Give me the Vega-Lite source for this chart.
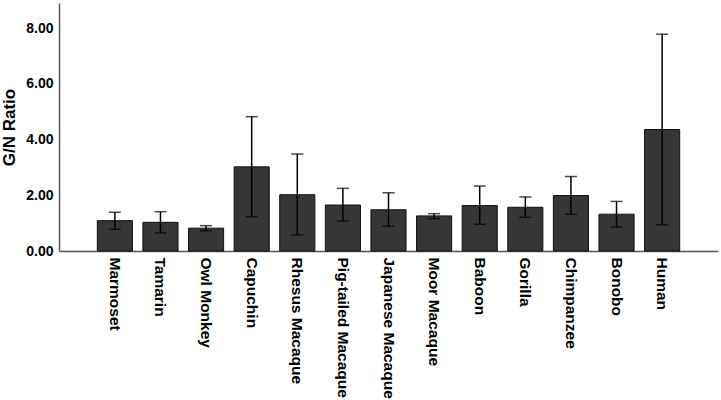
{
  "$schema": "https://vega.github.io/schema/vega-lite/v6.json",
  "width": 659,
  "height": 248,
  "autosize": {"type": "none"},
  "padding": {"left": 59, "top": 3, "right": 3, "bottom": 149},
  "background": "white",
  "config": {
    "view": {"stroke": null},
    "font": "Liberation Sans"
  },
  "data": {
    "values": [
      {"species": "Marmoset", "ratio": 1.09, "lo": 0.78, "hi": 1.39},
      {"species": "Tamarin", "ratio": 1.03, "lo": 0.65, "hi": 1.41},
      {"species": "Owl Monkey", "ratio": 0.82, "lo": 0.73, "hi": 0.91},
      {"species": "Capuchin", "ratio": 3.02, "lo": 1.23, "hi": 4.82},
      {"species": "Rhesus Macaque", "ratio": 2.02, "lo": 0.58, "hi": 3.48},
      {"species": "Pig-tailed Macaque", "ratio": 1.65, "lo": 1.07, "hi": 2.25},
      {"species": "Japanese Macaque", "ratio": 1.48, "lo": 0.89, "hi": 2.09},
      {"species": "Moor Macaque", "ratio": 1.26, "lo": 1.16, "hi": 1.34},
      {"species": "Baboon", "ratio": 1.63, "lo": 0.96, "hi": 2.33},
      {"species": "Gorilla", "ratio": 1.57, "lo": 1.21, "hi": 1.94},
      {"species": "Chimpanzee", "ratio": 1.99, "lo": 1.32, "hi": 2.67},
      {"species": "Bonobo", "ratio": 1.32, "lo": 0.86, "hi": 1.78},
      {"species": "Human", "ratio": 4.36, "lo": 0.94, "hi": 7.78}
    ]
  },
  "encoding": {
    "x": {
      "field": "species",
      "type": "nominal",
      "sort": null,
      "scale": {"paddingInner": 0.23, "paddingOuter": 0.84},
      "axis": {
        "title": null,
        "labelAngle": 90,
        "labelAlign": "left",
        "labelBaseline": "middle",
        "labelFontSize": 15.5,
        "labelFontWeight": "bold",
        "labelColor": "black",
        "labelPadding": 6,
        "labelLimit": 200,
        "ticks": false,
        "domainColor": "#555555",
        "domainWidth": 1.5
      }
    }
  },
  "layer": [
    {
      "mark": {"type": "bar", "fill": "#363636", "stroke": "#111111", "strokeWidth": 1},
      "encoding": {
        "y": {
          "field": "ratio",
          "type": "quantitative",
          "scale": {"domain": [0, 8.9], "nice": false},
          "axis": {
            "title": "G/N Ratio",
            "titleFontSize": 17,
            "titleFontWeight": "bold",
            "titleColor": "black",
            "titlePadding": 7,
            "values": [0, 2, 4, 6, 8],
            "format": ".2f",
            "labelFontSize": 14,
            "labelFontWeight": "bold",
            "labelColor": "black",
            "labelPadding": 6,
            "ticks": false,
            "grid": false,
            "domainColor": "#555555",
            "domainWidth": 1.5
          }
        }
      }
    },
    {
      "mark": {"type": "rule", "color": "black", "strokeWidth": 1.5},
      "encoding": {
        "y": {"field": "lo", "type": "quantitative"},
        "y2": {"field": "hi"}
      }
    },
    {
      "mark": {"type": "tick", "color": "black", "size": 12, "thickness": 1.5},
      "encoding": {"y": {"field": "lo", "type": "quantitative"}}
    },
    {
      "mark": {"type": "tick", "color": "black", "size": 12, "thickness": 1.5},
      "encoding": {"y": {"field": "hi", "type": "quantitative"}}
    }
  ]
}
